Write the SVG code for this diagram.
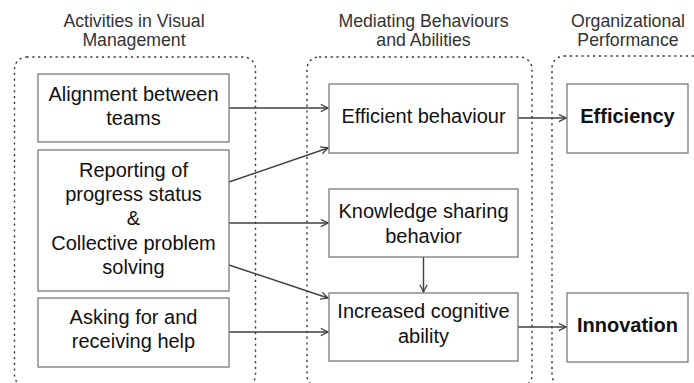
<svg xmlns="http://www.w3.org/2000/svg" width="694" height="383" viewBox="0 0 694 383">
  <style>
    .bg { fill: #ffffff; }
    .group { fill: none; stroke: #3a3a3a; stroke-width: 1.4; stroke-dasharray: 2.2 3.6; }
    .box { fill: #ffffff; stroke: #7a7a7a; stroke-width: 1.3; }
    .title { font-family: "Liberation Sans", Arial, sans-serif; font-size: 17.7px; fill: #333333; text-anchor: middle; }
    .label { font-family: "Liberation Sans", Arial, sans-serif; font-size: 20px; fill: #111111; text-anchor: middle; }
    .bold { font-weight: bold; }
    .edge { fill: none; stroke: #404040; stroke-width: 1.4; }
  </style>
  <defs>
    <marker id="arrow" viewBox="0 0 10 10" refX="9" refY="5" markerWidth="9" markerHeight="9" markerUnits="userSpaceOnUse" orient="auto">
      <path d="M1,1 L9,5 L1,9" fill="none" stroke="#404040" stroke-width="1.4"/>
    </marker>
  </defs>

  <rect class="bg" x="0" y="0" width="694" height="383"/>

  <!-- column headings -->
  <g id="headings">
    <text class="title" x="134" y="27">Activities in Visual</text>
    <text class="title" x="134" y="45.5">Management</text>
    <text class="title" x="423.5" y="27">Mediating Behaviours</text>
    <text class="title" x="423.5" y="45.5">and Abilities</text>
    <text class="title" x="628" y="27">Organizational</text>
    <text class="title" x="628" y="45.5">Performance</text>
  </g>

  <!-- dotted column frames -->
  <g id="frames">
    <rect class="group" x="14.5" y="57" width="241" height="330" rx="12"/>
    <rect class="group" x="307" y="57" width="225" height="330" rx="12"/>
    <rect class="group" x="552" y="56" width="170" height="331" rx="12"/>
  </g>

  <!-- connectors -->
  <g id="connectors">
    <line class="edge" x1="229" y1="108" x2="328" y2="108" marker-end="url(#arrow)"/>
    <line class="edge" x1="229" y1="182" x2="328" y2="148" marker-end="url(#arrow)"/>
    <line class="edge" x1="229" y1="223" x2="328" y2="223" marker-end="url(#arrow)"/>
    <line class="edge" x1="229" y1="265" x2="328" y2="298" marker-end="url(#arrow)"/>
    <line class="edge" x1="229" y1="332" x2="328" y2="332" marker-end="url(#arrow)"/>
    <line class="edge" x1="423.5" y1="257" x2="423.5" y2="292" marker-end="url(#arrow)"/>
    <line class="edge" x1="518" y1="118" x2="566" y2="118" marker-end="url(#arrow)"/>
    <line class="edge" x1="518" y1="327" x2="566" y2="327" marker-end="url(#arrow)"/>
  </g>

  <!-- activities -->
  <g id="alignment">
    <rect class="box" x="38" y="74" width="191" height="68"/>
    <text class="label" x="133.5" y="101">Alignment between</text>
    <text class="label" x="133.5" y="124.5">teams</text>
  </g>
  <g id="reporting">
    <rect class="box" x="38" y="150" width="191" height="141"/>
    <text class="label" x="133.5" y="177">Reporting of</text>
    <text class="label" x="133.5" y="201">progress status</text>
    <text class="label" x="133.5" y="225">&amp;</text>
    <text class="label" x="133.5" y="249.5">Collective problem</text>
    <text class="label" x="133.5" y="273.5">solving</text>
  </g>
  <g id="asking">
    <rect class="box" x="38" y="298" width="191" height="69"/>
    <text class="label" x="133.5" y="324">Asking for and</text>
    <text class="label" x="133.5" y="348">receiving help</text>
  </g>

  <!-- mediating behaviours -->
  <g id="efficient-behaviour">
    <rect class="box" x="329" y="84" width="189" height="69"/>
    <text class="label" x="423.5" y="123">Efficient behaviour</text>
  </g>
  <g id="knowledge-sharing">
    <rect class="box" x="329" y="189" width="189" height="68"/>
    <text class="label" x="423.5" y="218">Knowledge sharing</text>
    <text class="label" x="423.5" y="243">behavior</text>
  </g>
  <g id="cognitive-ability">
    <rect class="box" x="329" y="293" width="189" height="68"/>
    <text class="label" x="423.5" y="318">Increased cognitive</text>
    <text class="label" x="423.5" y="343">ability</text>
  </g>

  <!-- performance -->
  <g id="efficiency">
    <rect class="box" x="567" y="84" width="121" height="69"/>
    <text class="label bold" x="627.5" y="123">Efficiency</text>
  </g>
  <g id="innovation">
    <rect class="box" x="567" y="293" width="121" height="69"/>
    <text class="label bold" x="627.5" y="332">Innovation</text>
  </g>
</svg>
